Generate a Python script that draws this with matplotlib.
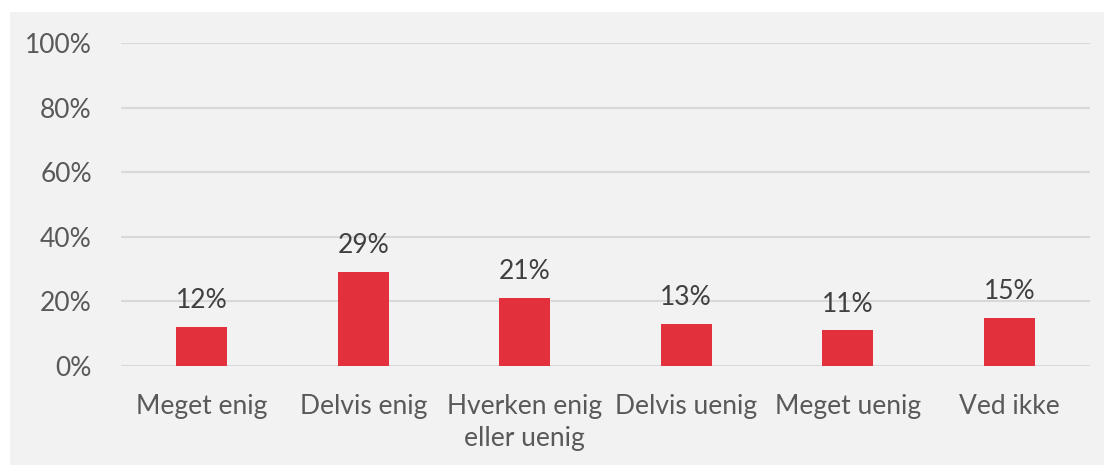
import matplotlib
matplotlib.use("Agg")
import matplotlib.pyplot as plt
from matplotlib.patches import Rectangle

# data
categories = ["Meget enig", "Delvis enig", "Hverken enig\neller uenig",
              "Delvis uenig", "Meget uenig", "Ved ikke"]
values = [12, 29, 21, 13, 11, 15]
yticks = [0, 20, 40, 60, 80, 100]

plt.rcParams['font.family'] = ['Lato', 'DejaVu Sans']

fig = plt.figure(figsize=(11.04, 4.65), dpi=100, facecolor="white")
# gray chart panel, behind the axes
fig.patches.append(Rectangle((10 / 1104, 0), 1, (465 - 12) / 465,
                             transform=fig.transFigure, facecolor="#f2f2f2",
                             edgecolor="none", zorder=-1))

ax = fig.add_axes([121 / 1104, 1 - 366 / 465, (1090 - 121) / 1104, (366 - 43) / 465])
ax.set_facecolor("none")

x = range(len(categories))
bars = ax.bar(x, values, width=0.315, color="#e3303d", zorder=3)
for b, v in zip(bars, values):
    ax.annotate(f"{v}%", (b.get_x() + b.get_width() / 2, v), xytext=(0, 10),
                textcoords="offset points", ha="center", va="bottom",
                fontsize=19, color="#404040")

ax.set_xlim(-0.5, len(categories) - 0.5)
ax.set_ylim(0, 100)
ax.set_yticks(yticks)
ax.set_yticklabels([f"{t}%" for t in yticks])
ax.set_xticks(list(x))
ax.set_xticklabels(categories, linespacing=1.38)
ax.tick_params(axis="both", length=0, labelsize=19, labelcolor="#595959")
ax.tick_params(axis="y", pad=21)
ax.tick_params(axis="x", pad=20)
ax.grid(axis="y", color="#d9d9d9", linewidth=1.5, zorder=0)
for s in ax.spines.values():
    s.set_visible(False)

fig.savefig("out.png", dpi=100, facecolor="white")
